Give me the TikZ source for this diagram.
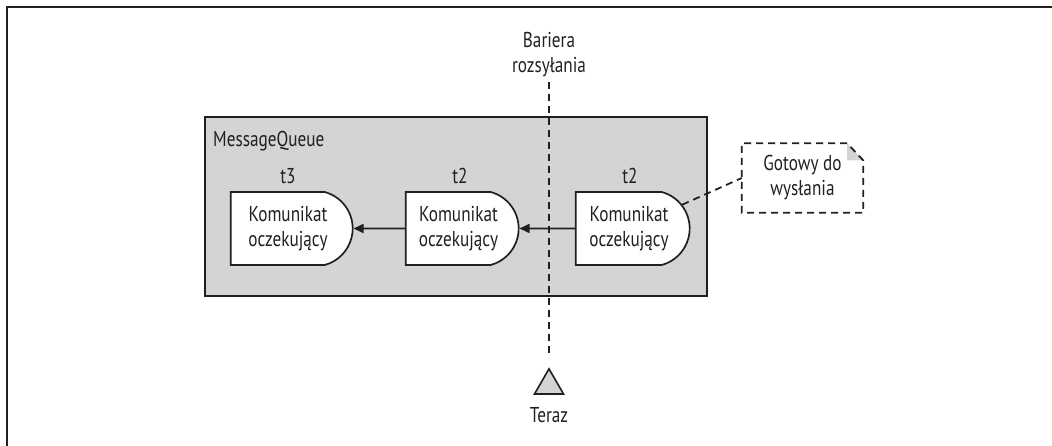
\documentclass[tikz,border=0pt]{standalone}
\usepackage{fontspec}
\setmainfont{PT Sans}[FakeStretch=0.8]
\usetikzlibrary{arrows.meta,shapes.misc,shapes.geometric}
\definecolor{qgray}{HTML}{D4D4D4}
\definecolor{ink}{HTML}{231F20}
\begin{document}
\begin{tikzpicture}[x=1pt,y=-1pt,
  every node/.style={font=\fontsize{21.5}{25}\selectfont, text=ink},
  msg/.style={rounded rectangle, rounded rectangle left arc=none, rounded rectangle arc length=150,
    draw=ink, line width=1.7pt, fill=white, minimum height=73pt, inner sep=0pt, align=center},
  lbl/.style={inner sep=0pt},
  link/.style={draw=ink, line width=1.7pt, -{Triangle[length=10pt,width=9pt]}},
  dsh/.style={draw=ink, line width=1.8pt, dash pattern=on 7pt off 5pt},
]
\useasboundingbox (0,0) rectangle (1052,446);
\draw[ink, line width=2pt] (7,446) -- (7,7) -- (1052,7);

% queue
\node[draw=ink, fill=qgray, line width=1.6pt, minimum width=502pt, minimum height=179pt, inner sep=0pt] (queue) at (456,206.5) {};
\node[lbl, anchor=west] (qlabel) at (213,141) {MessageQueue};

% messages
\node[msg, minimum width=122pt] (m1) at (288,228.5) {Komunikat\\oczekujący};
\node[msg, minimum width=113pt] (m2) at (458.5,228.5) {Komunikat\\oczekujący};
\node[msg, minimum width=114pt] (m3) at (629,228.5) {Komunikat\\oczekujący};
\node[lbl] (l1) at (288,176) {t3};
\node[lbl] (l2) at (460,176) {t2};
\node[lbl] (l3) at (630,176) {t2};

\draw[link] (m2) -- (m1);
\draw[link] (m3) -- (m2);

% barrier
\node[lbl, align=center] (blabel) at (549,55) {Bariera\\rozsyłania};
\node[regular polygon, regular polygon sides=3, draw=ink, fill=qgray, line width=1.6pt,
  minimum size=33.5pt, inner sep=0pt] (now) at (549,385.6) {};
\node[lbl] (tlabel) at (549,415) {Teraz};
\draw[dsh] ([yshift=-4pt]blabel.south) -- ([yshift=12pt]now.north);

% note
\node[minimum width=121pt, minimum height=69pt, align=center, inner sep=0pt] (note) at (802.5,178) {Gotowy do\\wysłania};
\fill[qgray] ([xshift=-16pt]note.north east) -- ([xshift=-16pt,yshift=-17pt]note.north east) -- ([yshift=-17pt]note.north east) -- cycle;
\draw[dsh] ([xshift=-16pt]note.north east) -- (note.north west) -- (note.south west) -- (note.south east) -- ([yshift=-17pt]note.north east) -- cycle;
\draw[dsh] (m3) -- (note.west);
\end{tikzpicture}
\end{document}
